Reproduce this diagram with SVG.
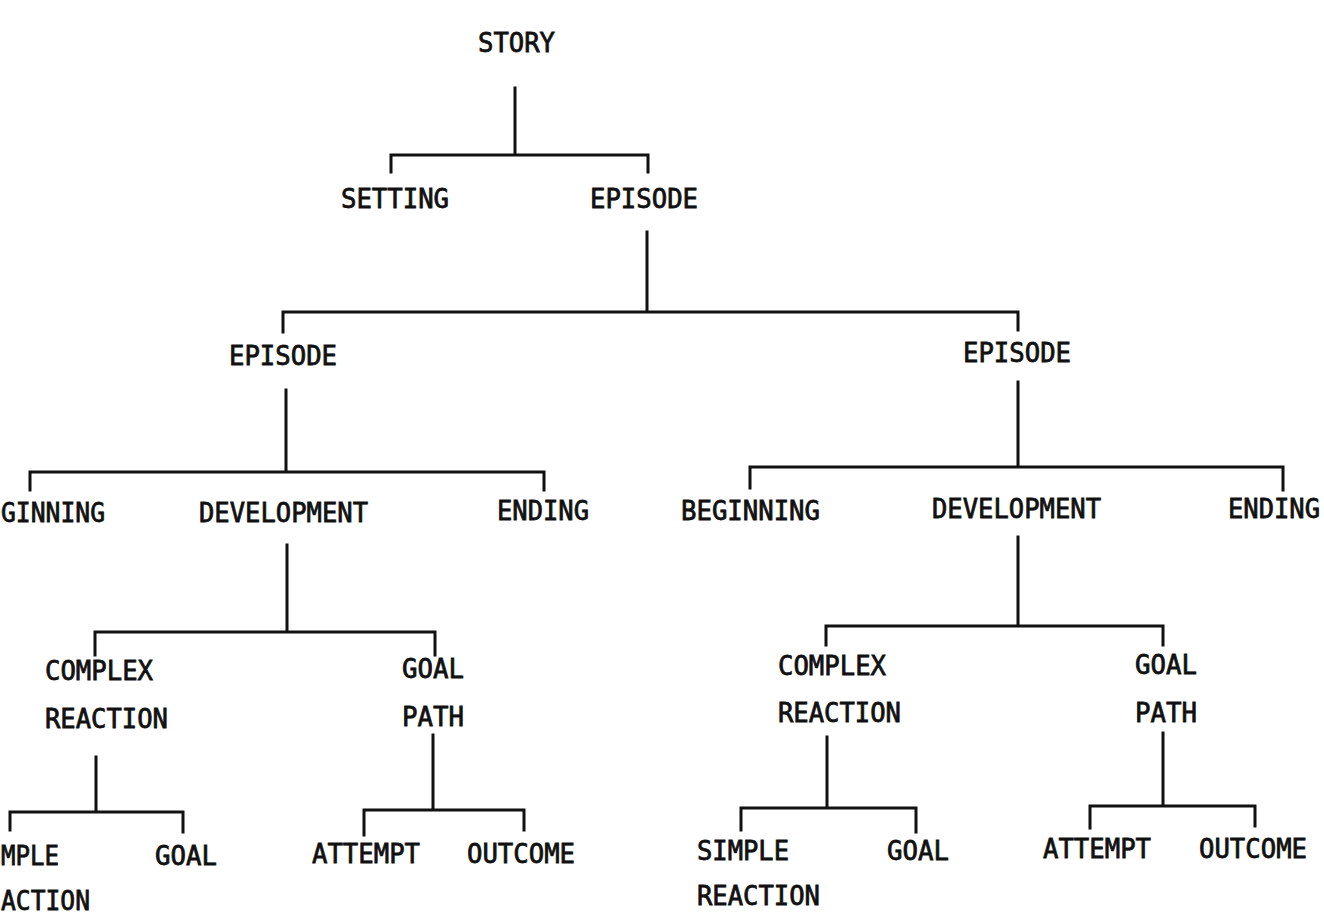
<svg xmlns="http://www.w3.org/2000/svg" width="1324" height="915" viewBox="0 0 1324 915">
<style>
  .bg{fill:#ffffff}
  text{font-family:"DejaVu Sans Mono","Liberation Mono",monospace;font-size:27px;fill:#111;stroke:#111;stroke-width:0.8}
  .ln{stroke:#111;stroke-width:3;fill:none;stroke-linecap:square;stroke-linejoin:miter}
</style>
<rect class="bg" x="0" y="0" width="1324" height="915"/>
<g id="connectors">
  <path class="ln" d="M515 88V155 M391 172V155H648V172"/>
  <path class="ln" d="M647 232V312 M283 332V312H1018V330"/>
  <path class="ln" d="M286 390V472 M30 490V472H544V490"/>
  <path class="ln" d="M1018 382V467 M750 488V467H1283V490"/>
  <path class="ln" d="M287 545V632 M95 655V632H435V655"/>
  <path class="ln" d="M96 757V812 M10 830V812H183V832"/>
  <path class="ln" d="M433 735V810 M364 835V810H524V830"/>
  <path class="ln" d="M1018 537V626 M826 645V626H1163V645"/>
  <path class="ln" d="M827 737V808 M741 830V808H916V832"/>
  <path class="ln" d="M1163 733V806 M1090 828V806H1255V826"/>
</g>
<g id="n-story"><text x="478" y="52" textLength="77" lengthAdjust="spacingAndGlyphs">STORY</text></g>
<g id="n-setting"><text x="341" y="208" textLength="108" lengthAdjust="spacingAndGlyphs">SETTING</text></g>
<g id="n-episode"><text x="590" y="208" textLength="108" lengthAdjust="spacingAndGlyphs">EPISODE</text></g>
<g id="n-episode-l"><text x="229" y="365" textLength="108" lengthAdjust="spacingAndGlyphs">EPISODE</text></g>
<g id="n-episode-r"><text x="963" y="362" textLength="108" lengthAdjust="spacingAndGlyphs">EPISODE</text></g>
<g id="n-beginning-l"><text x="1" y="522" textLength="104" lengthAdjust="spacingAndGlyphs">GINNING</text></g>
<g id="n-development-l"><text x="199" y="522" textLength="169" lengthAdjust="spacingAndGlyphs">DEVELOPMENT</text></g>
<g id="n-ending-l"><text x="497" y="520" textLength="92" lengthAdjust="spacingAndGlyphs">ENDING</text></g>
<g id="n-beginning-r"><text x="681" y="520" textLength="139" lengthAdjust="spacingAndGlyphs">BEGINNING</text></g>
<g id="n-development-r"><text x="932" y="518" textLength="169" lengthAdjust="spacingAndGlyphs">DEVELOPMENT</text></g>
<g id="n-ending-r"><text x="1228" y="518" textLength="92" lengthAdjust="spacingAndGlyphs">ENDING</text></g>
<g id="n-complex-l"><text x="45" y="680" textLength="108" lengthAdjust="spacingAndGlyphs">COMPLEX</text><text x="45" y="728" textLength="123" lengthAdjust="spacingAndGlyphs">REACTION</text></g>
<g id="n-goalpath-l"><text x="402" y="678" textLength="62" lengthAdjust="spacingAndGlyphs">GOAL</text><text x="402" y="726" textLength="62" lengthAdjust="spacingAndGlyphs">PATH</text></g>
<g id="n-simple-l"><text x="1" y="865" textLength="58" lengthAdjust="spacingAndGlyphs">MPLE</text><text x="1" y="910" textLength="89" lengthAdjust="spacingAndGlyphs">ACTION</text></g>
<g id="n-goal-l"><text x="155" y="865" textLength="62" lengthAdjust="spacingAndGlyphs">GOAL</text></g>
<g id="n-attempt-l"><text x="312" y="863" textLength="108" lengthAdjust="spacingAndGlyphs">ATTEMPT</text></g>
<g id="n-outcome-l"><text x="467" y="863" textLength="108" lengthAdjust="spacingAndGlyphs">OUTCOME</text></g>
<g id="n-complex-r"><text x="778" y="675" textLength="108" lengthAdjust="spacingAndGlyphs">COMPLEX</text><text x="778" y="722" textLength="123" lengthAdjust="spacingAndGlyphs">REACTION</text></g>
<g id="n-goalpath-r"><text x="1135" y="674" textLength="62" lengthAdjust="spacingAndGlyphs">GOAL</text><text x="1135" y="722" textLength="62" lengthAdjust="spacingAndGlyphs">PATH</text></g>
<g id="n-simple-r"><text x="697" y="860" textLength="92" lengthAdjust="spacingAndGlyphs">SIMPLE</text><text x="697" y="905" textLength="123" lengthAdjust="spacingAndGlyphs">REACTION</text></g>
<g id="n-goal-r"><text x="887" y="860" textLength="62" lengthAdjust="spacingAndGlyphs">GOAL</text></g>
<g id="n-attempt-r"><text x="1043" y="858" textLength="108" lengthAdjust="spacingAndGlyphs">ATTEMPT</text></g>
<g id="n-outcome-r"><text x="1199" y="858" textLength="108" lengthAdjust="spacingAndGlyphs">OUTCOME</text></g>
</svg>
